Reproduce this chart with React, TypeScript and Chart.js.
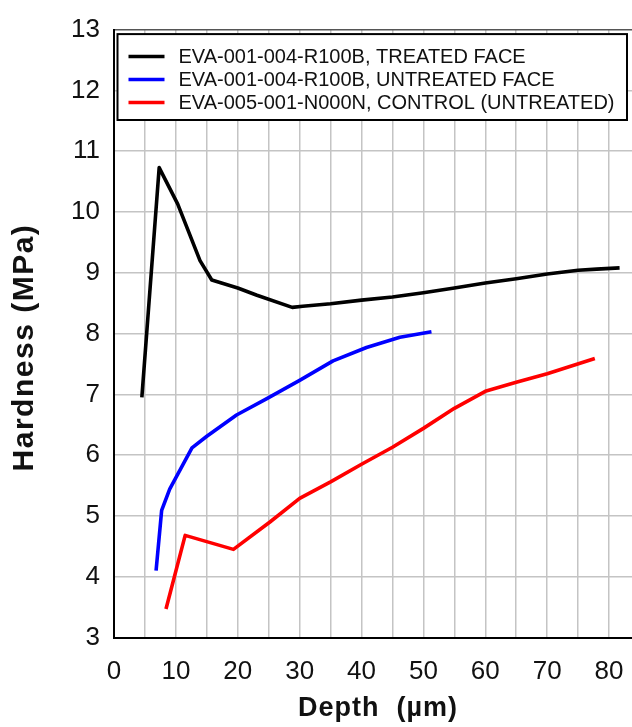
import { useEffect, useRef } from "react";
import { Chart, registerables } from "chart.js";

Chart.register(...registerables);

const FONT = '"Liberation Sans", Arial, Helvetica, sans-serif';

// Depth (µm) / hardness (MPa) traces
const treatedDepth = [4.5, 7.3, 10.3, 13.9, 15.8, 20, 23.1, 28.8, 30.5, 35, 40, 45, 50, 55, 60, 65, 70, 75, 78, 81.7];
const treatedHardness = [6.95, 10.73, 10.13, 9.2, 8.88, 8.75, 8.63, 8.43, 8.45, 8.49, 8.55, 8.6, 8.67, 8.75, 8.83, 8.9, 8.98, 9.04, 9.06, 9.08];

const untreatedDepth = [6.8, 7.7, 9.0, 12.6, 15.0, 19.8, 24.7, 30, 35.4, 40.8, 46.2, 51.3];
const untreatedHardness = [4.1, 5.09, 5.44, 6.12, 6.31, 6.66, 6.93, 7.23, 7.55, 7.77, 7.94, 8.03];

const controlDepth = [8.4, 11.5, 19.3, 25.2, 30, 35, 40, 45, 50, 55, 60, 65, 70, 77.7];
const controlHardness = [3.47, 4.68, 4.45, 4.9, 5.29, 5.56, 5.85, 6.13, 6.44, 6.77, 7.05, 7.2, 7.34, 7.59];

const seriesLabels = [
  "EVA-001-004-R100B, TREATED FACE",
  "EVA-001-004-R100B, UNTREATED FACE",
  "EVA-005-001-N000N, CONTROL (UNTREATED)",
];
const seriesColors = ["#000000", "#0000ff", "#ff0000"];

const X_TITLE = "Depth  (\u00b5m)";
const Y_TITLE = "Hardness (MPa)";
const X_MIN = 0;
const X_MAX = 85;
const X_STEP = 5;
const X_LABEL_STEP = 10;
const Y_MIN = 3;
const Y_MAX = 13;
const Y_STEP = 1;

const toPoints = (xs: number[], ys: number[]) => xs.map((x, i) => ({ x, y: ys[i] }));

// Boxed legend drawn inside the top of the plot area
const insetLegend = {
  id: "insetLegend",
  afterDatasetsDraw(chart: any) {
    const { ctx, chartArea } = chart;
    const left = chartArea.left + 3.5;
    const top = chartArea.top + 4.5;
    const right = 627;
    const bottom = 120;
    ctx.save();
    ctx.fillStyle = "#ffffff";
    ctx.fillRect(left, top, right - left, bottom - top);
    ctx.strokeStyle = "#000000";
    ctx.lineWidth = 2;
    ctx.strokeRect(left, top, right - left, bottom - top);
    ctx.font = `20px ${FONT}`;
    ctx.textBaseline = "middle";
    ctx.textAlign = "left";
    chart.data.datasets.forEach((ds: any, i: number) => {
      const y = top + 22.5 + i * 23;
      ctx.strokeStyle = ds.borderColor;
      ctx.lineWidth = 3.5;
      ctx.beginPath();
      ctx.moveTo(left + 11, y);
      ctx.lineTo(left + 47, y);
      ctx.stroke();
      ctx.fillStyle = "#111111";
      ctx.fillText(ds.label, left + 61, y + 0.5);
    });
    ctx.restore();
  },
};

// Bold axis titles
const axisTitles = {
  id: "axisTitles",
  afterDraw(chart: any) {
    const { ctx, chartArea } = chart;
    ctx.save();
    ctx.fillStyle = "#111111";
    ctx.textAlign = "center";
    ctx.textBaseline = "middle";
    ctx.font = `bold 30px ${FONT}`;
    (ctx as any).letterSpacing = "1.5px";
    ctx.translate(25, (chartArea.top + chartArea.bottom) / 2 + 14);
    ctx.rotate(-Math.PI / 2);
    ctx.fillText(Y_TITLE, 0, 0);
    ctx.restore();

    ctx.save();
    ctx.fillStyle = "#111111";
    ctx.textAlign = "center";
    ctx.textBaseline = "middle";
    ctx.font = `bold 27px ${FONT}`;
    (ctx as any).letterSpacing = "1px";
    ctx.fillText(X_TITLE, (chartArea.left + chartArea.right) / 2 + 1, 709);
    ctx.restore();
  },
};

function HardnessChart() {
  const canvasRef = useRef<HTMLCanvasElement | null>(null);

  useEffect(() => {
    const canvas = canvasRef.current;
    if (!canvas) return;

    const datasets = [
      toPoints(treatedDepth, treatedHardness),
      toPoints(untreatedDepth, untreatedHardness),
      toPoints(controlDepth, controlHardness),
    ].map((data, i) => ({
      label: seriesLabels[i],
      data,
      borderColor: seriesColors[i],
      backgroundColor: seriesColors[i],
      borderWidth: 3.6,
      pointRadius: 0,
      tension: 0,
      borderJoinStyle: "round" as const,
      fill: false,
    }));

    const chart = new Chart(canvas, {
      type: "line",
      data: { datasets },
      plugins: [insetLegend, axisTitles],
      options: {
        animation: false,
        responsive: false,
        devicePixelRatio: 1,
        parsing: false,
        layout: { padding: { top: 21, right: 20, bottom: 0, left: 0 } },
        plugins: {
          legend: { display: false },
          tooltip: { enabled: false },
        },
        scales: {
          x: {
            type: "linear",
            min: X_MIN,
            max: X_MAX,
            afterFit: (scale: any) => {
              scale.height = 89.5;
            },
            border: { display: true, color: "#000000", width: 2 },
            grid: { color: "#c4c4c4", lineWidth: 1.5, drawTicks: false },
            ticks: {
              stepSize: X_STEP,
              autoSkip: false,
              maxRotation: 0,
              padding: 19,
              color: "#111111",
              font: { family: FONT, size: 26 },
              callback: (v: any) => (Number(v) % X_LABEL_STEP === 0 ? String(v) : ""),
            },
          },
          y: {
            type: "linear",
            min: Y_MIN,
            max: Y_MAX,
            afterFit: (scale: any) => {
              scale.width = 114;
            },
            border: { display: true, color: "#000000", width: 2 },
            grid: {
              color: (c: any) => (c.tick && c.tick.value === Y_MAX ? "#555555" : "#c4c4c4"),
              lineWidth: 1.5,
              drawTicks: false,
            },
            ticks: {
              stepSize: Y_STEP,
              padding: 14,
              color: "#111111",
              font: { family: FONT, size: 26 },
            },
          },
        },
      },
    });

    return () => chart.destroy();
  }, []);

  return <canvas ref={canvasRef} width={660} height={727} style={{ display: "block" }} />;
}

export default function App() {
  return (
    <div
      style={{
        position: "fixed",
        left: 0,
        top: 0,
        width: 632,
        height: 727,
        overflow: "hidden",
        background: "#ffffff",
      }}
    >
      <HardnessChart />
    </div>
  );
}
